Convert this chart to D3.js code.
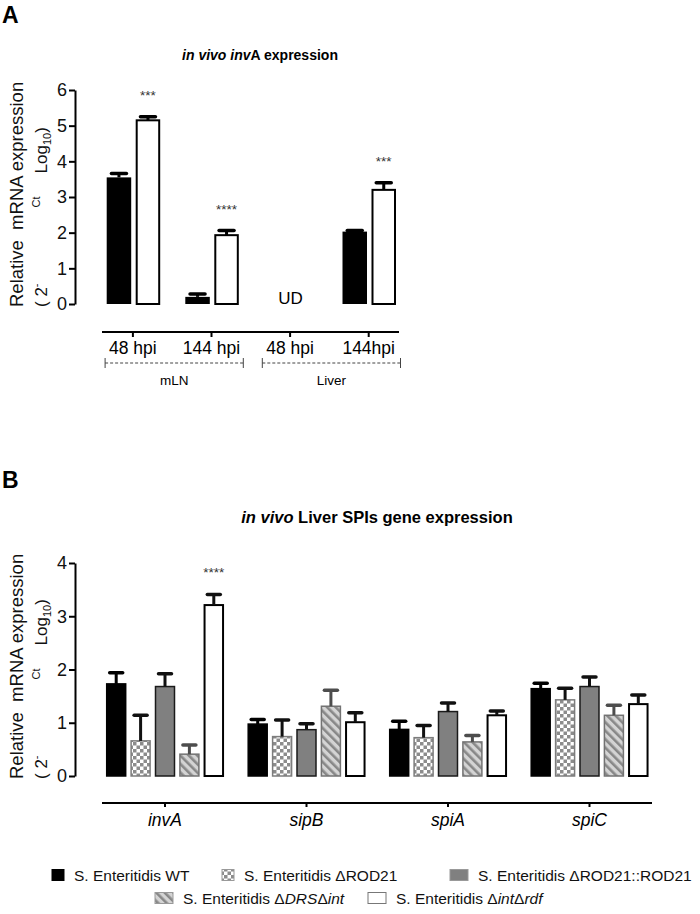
<!DOCTYPE html>
<html><head><meta charset="utf-8">
<script src="https://cdn.jsdelivr.net/npm/d3@7"></script>
<style>
body{margin:0;background:#fff;}
svg{font-family:"Liberation Sans",Arial,Helvetica,sans-serif;}
</style></head>
<body><svg id="c" width="700" height="914"></svg>
<script>
// ---------- Panel A data ----------
const catsA = ["48 hpi","144 hpi","48 hpi","144hpi"];
const seriesA = ["WT","intrdf"];
const wtA = [3.55, 0.20, null, 2.03];
const wtErrA = [0.11, 0.08, null, 0.03];
const mutA = [5.15, 1.93, null, 3.20];
const mutErrA = [0.10, 0.13, null, 0.20];
const starsA = ["***","****",null,"***"];
const yTicksA = [0,1,2,3,4,5,6];
const groupsA = [{label:"mLN", from:0, to:1},{label:"Liver", from:2, to:3}];

// ---------- Panel B data ----------
const genes = ["invA","sipB","spiA","spiC"];
const seriesB = ["wt","drod","comp","drs","intrdf"];
const wtB   = [1.73, 0.975, 0.875, 1.64];
const wtBErr   = [0.21, 0.085, 0.155, 0.10];
const drodB = [0.66, 0.74, 0.72, 1.43];
const drodBErr = [0.48, 0.31, 0.23, 0.22];
const compB = [1.68, 0.87, 1.21, 1.68];
const compBErr = [0.24, 0.11, 0.16, 0.18];
const drsB  = [0.41, 1.31, 0.64, 1.14];
const drsBErr  = [0.17, 0.30, 0.12, 0.19];
const intB  = [3.21, 1.01, 1.14, 1.35];
const intBErr  = [0.20, 0.18, 0.08, 0.17];
const starsB = ["****",null,null,null];
const yTicksB = [0,1,2,3,4];

const svg = d3.select("#c");
const defs = svg.append("defs");
// checker pattern
const chk = defs.append("pattern").attr("id","chk").attr("patternUnits","userSpaceOnUse")
  .attr("width",7).attr("height",7);
chk.append("rect").attr("width",7).attr("height",7).attr("fill","#fff");
chk.append("rect").attr("width",3.5).attr("height",3.5).attr("fill","#8c8c8c");
chk.append("rect").attr("x",3.5).attr("y",3.5).attr("width",3.5).attr("height",3.5).attr("fill","#8c8c8c");
// hatch pattern
const hat = defs.append("pattern").attr("id","hat").attr("patternUnits","userSpaceOnUse")
  .attr("width",6).attr("height",6).attr("patternTransform","rotate(-45)");
hat.append("rect").attr("width",6).attr("height",6).attr("fill","#d4d4d4");
hat.append("rect").attr("width",2.6).attr("height",6).attr("fill","#888");

const styleB = {
  wt:{fill:"#000", stroke:"#000", err:"#000"},
  drod:{fill:"url(#chk)", stroke:"#7d7d7d", err:"#111"},
  comp:{fill:"#808080", stroke:"#1a1a1a", err:"#111"},
  drs:{fill:"url(#hat)", stroke:"#737373", err:"#4d4d4d"},
  intrdf:{fill:"#fff", stroke:"#000", err:"#111"}
};

function panelLetter(t, y){
  svg.append("text").attr("x",2).attr("y",y).attr("font-size",23).attr("font-weight","bold").text(t);
}
function yLabel(zeroY){
  svg.append("text").attr("transform",`translate(23,${zeroY+3}) rotate(-90)`)
    .attr("font-size",18.5).attr("fill","#111").text("Relative\u00a0\u00a0mRNA expression");
  const t = svg.append("text").attr("transform",`translate(47,${zeroY+3}) rotate(-90)`)
    .attr("font-size",17).attr("fill","#111");
  t.append("tspan").text("(\u00a02");
  t.append("tspan").attr("font-size",11).attr("dy",-7).text("-");
  t.append("tspan").attr("font-size",11).attr("dx",76).text("Ct");
  t.append("tspan").attr("dx",23).attr("dy",7).text("Log");
  t.append("tspan").attr("font-size",11).attr("dy",4).text("10");
  t.append("tspan").attr("dy",-4).text(")");
}
function yAxis(y, ticks){
  const g = svg.append("g").attr("transform","translate(75,0)")
    .call(d3.axisLeft(y).tickValues(ticks).tickSize(6).tickPadding(2).tickSizeOuter(0).tickFormat(d3.format("d")));
  g.select(".domain").attr("stroke-width",2);
  g.selectAll(".tick line").attr("stroke-width",2);
  g.selectAll(".tick text").attr("font-size",18).attr("fill","#111").attr("font-family","Liberation Sans, Arial");
}
function errBar(cx, y0, y1, capW, color){
  svg.append("line").attr("x1",cx).attr("x2",cx).attr("y1",y0).attr("y2",y1)
    .attr("stroke",color).attr("stroke-width",3);
  svg.append("line").attr("x1",cx-capW/2).attr("x2",cx+capW/2).attr("y1",y1).attr("y2",y1)
    .attr("stroke",color).attr("stroke-width",3.5).attr("stroke-linecap","round");
}

// ================= Panel A =================
panelLetter("A", 23);
const tA = svg.append("text").attr("x",260).attr("y",60).attr("text-anchor","middle")
  .attr("font-size",14).attr("font-weight","bold");
tA.append("tspan").attr("font-style","italic").text("in vivo inv");
tA.append("tspan").text("A expression");

const yA = d3.scaleLinear().domain([0,6]).range([304,90]);
const xA = d3.scaleBand().domain(d3.range(catsA.length)).range([93.6,408]);
const xA1 = d3.scaleBand().domain(seriesA).range([13.1, 13.1+53.5]).paddingInner(0.155);
yAxis(yA, yTicksA);
yLabel(304);

catsA.forEach((c,i)=>{
  const gx = xA(i);
  if (wtA[i] === null){
    svg.append("text").attr("x",gx+xA.bandwidth()/2+0.5).attr("y",304).attr("text-anchor","middle")
      .attr("font-size",17).text("UD");
  } else {
    const bw = xA1.bandwidth();
    const x0 = gx + xA1("WT");
    svg.append("rect").attr("x",x0).attr("y",yA(wtA[i])).attr("width",bw)
      .attr("height",yA(0)-yA(wtA[i])).attr("fill","#000");
    errBar(x0+bw/2, yA(wtA[i]), yA(wtA[i]+wtErrA[i]), 15, "#000");
    const x1 = gx + xA1("intrdf");
    svg.append("rect").attr("x",x1+1).attr("y",yA(mutA[i])).attr("width",bw-2)
      .attr("height",yA(0)-yA(mutA[i])).attr("fill","#fff").attr("stroke","#000").attr("stroke-width",2);
    errBar(x1+bw/2, yA(mutA[i]), yA(mutA[i]+mutErrA[i]), 15, "#000");
    if (starsA[i]) svg.append("text").attr("x",x1+bw/2).attr("y",yA(mutA[i]+mutErrA[i])-17)
      .attr("text-anchor","middle").attr("font-size",13.5).attr("fill","#333").text(starsA[i]);
  }
});
svg.append("line").attr("x1",102).attr("x2",399).attr("y1",332).attr("y2",332).attr("stroke","#000").attr("stroke-width",2);
catsA.forEach((c,i)=>{
  const cx = xA(i)+xA.bandwidth()/2;
  svg.append("line").attr("x1",cx).attr("x2",cx).attr("y1",332).attr("y2",337).attr("stroke","#000").attr("stroke-width",2);
  svg.append("text").attr("x",cx).attr("y",354).attr("text-anchor","middle").attr("font-size",17.5).text(c);
});
groupsA.forEach(g=>{
  const xL = xA(g.from)+11.5, xR = xA(g.to)+xA.bandwidth()-7.5;
  svg.append("line").attr("x1",xL).attr("x2",xR).attr("y1",363).attr("y2",363)
    .attr("stroke","#444").attr("stroke-width",1).attr("stroke-dasharray","3,2");
  [xL,xR].forEach(x=>svg.append("line").attr("x1",x).attr("x2",x).attr("y1",358).attr("y2",368)
    .attr("stroke","#444").attr("stroke-width",1));
  svg.append("text").attr("x",(xL+xR)/2).attr("y",385).attr("text-anchor","middle").attr("font-size",13.5).text(g.label);
});

// ================= Panel B =================
panelLetter("B", 488);
const tB = svg.append("text").attr("x",377).attr("y",523).attr("text-anchor","middle")
  .attr("font-size",16.5).attr("font-weight","bold");
tB.append("tspan").attr("font-style","italic").text("in vivo");
tB.append("tspan").text(" Liver SPIs gene expression");

const yB = d3.scaleLinear().domain([0,4]).range([776,563]);
const xB = d3.scaleBand().domain(genes).range([94.25,660.25]);
const xB1 = d3.scaleBand().domain(seriesB).range([11.7, 11.7+118.1]).paddingInner(0.16);
yAxis(yB, yTicksB);
yLabel(776);

const valsB = {wt:wtB, drod:drodB, comp:compB, drs:drsB, intrdf:intB};
const errsB = {wt:wtBErr, drod:drodBErr, comp:compBErr, drs:drsBErr, intrdf:intBErr};
genes.forEach((g,i)=>{
  seriesB.forEach(s=>{
    const bw = xB1.bandwidth();
    const x = xB(g)+xB1(s);
    const v = valsB[s][i], e = errsB[s][i];
    const st = styleB[s];
    const sw = (s==="intrdf") ? 2 : 1.5;
    svg.append("rect").attr("x",x+sw/2).attr("y",yB(v)).attr("width",bw-sw)
      .attr("height",yB(0)-yB(v)).attr("fill",st.fill).attr("stroke",st.stroke).attr("stroke-width",sw);
    errBar(x+bw/2, yB(v), yB(v+e), 13, st.err);
  });
  if (starsB[i]){
    const x = xB(g)+xB1("intrdf")+xB1.bandwidth()/2;
    svg.append("text").attr("x",x).attr("y",yB(intB[i]+intBErr[i])-17).attr("text-anchor","middle")
      .attr("font-size",13.5).attr("fill","#333").text(starsB[i]);
  }
});
svg.append("line").attr("x1",102).attr("x2",652).attr("y1",803).attr("y2",803).attr("stroke","#000").attr("stroke-width",2);
genes.forEach(g=>{
  const cx = xB(g)+xB.bandwidth()/2;
  svg.append("line").attr("x1",cx).attr("x2",cx).attr("y1",803).attr("y2",807).attr("stroke","#000").attr("stroke-width",2);
  svg.append("text").attr("x",cx).attr("y",826).attr("text-anchor","middle").attr("font-size",17.5)
    .attr("font-style","italic").text(g);
});

// legend
const legendItems = [
  {s:"wt", x:52, y:875, w:12, parts:[["S. Enteritidis WT",false]]},
  {s:"drod", x:222, y:875, w:12, parts:[["S. Enteritidis \u0394ROD21",false]]},
  {s:"comp", x:450, y:875, w:18, parts:[["S. Enteritidis \u0394ROD21::ROD21",false]]},
  {s:"drs", x:155, y:898, w:18, parts:[["S. Enteritidis \u0394",false],["DRS",true],["\u0394",false],["int",true]]},
  {s:"intrdf", x:368, y:898, w:18, parts:[["S. Enteritidis \u0394",false],["int",true],["\u0394",false],["rdf",true]]}
];
legendItems.forEach(it=>{
  const st = styleB[it.s];
  svg.append("rect").attr("x",it.x).attr("y",it.y-5.5).attr("width",it.w).attr("height",11)
    .attr("fill",st.fill).attr("stroke", it.s==="intrdf" ? "#777" : (it.s==="wt"?"#000":"#999")).attr("stroke-width",1);
  const t = svg.append("text").attr("x",it.x+it.w+10).attr("y",it.y+5.5).attr("font-size",15.5).attr("fill","#111");
  it.parts.forEach(p=>t.append("tspan").attr("font-style",p[1]?"italic":"normal").text(p[0]));
});
</script></body></html>
